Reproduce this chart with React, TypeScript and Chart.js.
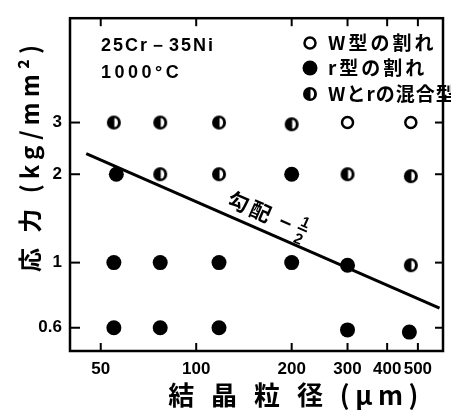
import { useEffect, useRef } from 'react';
import { Chart, registerables } from 'chart.js';
Chart.register(...registerables);

// ---- data ----
const xTickValues = [50, 100, 200, 300, 400, 500];
const yTickValues = [0.6, 1, 2, 3];
const wTypePoints = [
  { x: 300, y: 3 },
  { x: 475, y: 3 },
];
const rTypePoints = [
  { x: 56, y: 2 },
  { x: 200, y: 2 },
  { x: 55, y: 1 },
  { x: 77, y: 1 },
  { x: 118, y: 1 },
  { x: 200, y: 1 },
  { x: 300, y: 0.98 },
  { x: 55, y: 0.6 },
  { x: 77, y: 0.6 },
  { x: 118, y: 0.6 },
  { x: 300, y: 0.59 },
  { x: 470, y: 0.58 },
];
const mixedPoints = [
  { x: 55, y: 3 },
  { x: 77, y: 3 },
  { x: 118, y: 3 },
  { x: 200, y: 2.96 },
  { x: 77, y: 2 },
  { x: 118, y: 2 },
  { x: 300, y: 2 },
  { x: 475, y: 1.97 },
  { x: 475, y: 0.98 },
];
const slopeLine = [
  { x: 45, y: 2.35 },
  { x: 585, y: 0.7 },
];
const legendLabels = ['W型の割れ', 'r型の割れ', 'Wとrの混合型'];
const alloyLabel = '25Cr－35Ni';
const tempLabel = '1000°C';
const slopeText = '勾配 −';
const xTitle = '結 晶 粒 径 (μm)';
const yTitle = '応 力 (kg/mm²)';

const CJK = '"Noto Sans CJK JP", sans-serif';
const LAT = '"Liberation Sans", Arial, sans-serif';

function makeHalfMarker(): HTMLCanvasElement {
  const c = document.createElement('canvas');
  c.width = 16;
  c.height = 16;
  const g = c.getContext('2d')!;
  g.fillStyle = '#000';
  g.beginPath();
  g.arc(8, 8, 7, 0, Math.PI * 2);
  g.fill();
  g.fillStyle = '#fff';
  g.beginPath();
  g.ellipse(8.5, 8, 3.6, 4.6, 0, -Math.PI / 2, Math.PI / 2);
  g.closePath();
  g.fill();
  return c;
}

function drawMarker(ctx: CanvasRenderingContext2D, kind: number, x: number, y: number, half: HTMLCanvasElement) {
  if (kind === 0) {
    ctx.beginPath();
    ctx.lineWidth = 2.5;
    ctx.strokeStyle = '#000';
    ctx.arc(x, y, 5.5, 0, Math.PI * 2);
    ctx.stroke();
  } else if (kind === 1) {
    ctx.beginPath();
    ctx.fillStyle = '#000';
    ctx.arc(x, y, 7.5, 0, Math.PI * 2);
    ctx.fill();
  } else {
    ctx.drawImage(half, x - 8, y - 8);
  }
}

function spaced(ctx: any, px: number) {
  ctx.letterSpacing = `${px}px`;
}

export default function App() {
  const ref = useRef<HTMLCanvasElement>(null);
  useEffect(() => {
    const half = makeHalfMarker();
    const overlay = {
      id: 'overlay',
      afterDraw(chart: any) {
        const { ctx, chartArea: a, scales } = chart;
        const xs = scales.x;
        const ys = scales.y;
        ctx.save();
        // frame
        ctx.strokeStyle = '#000';
        ctx.lineWidth = 2.5;
        ctx.strokeRect(a.left, a.top, a.right - a.left, a.bottom - a.top);
        ctx.lineWidth = 2;
        const seg = (x1: number, y1: number, x2: number, y2: number) => {
          ctx.beginPath();
          ctx.moveTo(x1, y1);
          ctx.lineTo(x2, y2);
          ctx.stroke();
        };
        xTickValues.forEach((v) => {
          const px = xs.getPixelForValue(v);
          seg(px, a.bottom, px, a.bottom - 8);
          seg(px, a.top, px, a.top + 8);
        });
        yTickValues.forEach((v) => {
          const py = ys.getPixelForValue(v);
          seg(a.left, py, a.left + 10, py);
          seg(a.right, py, a.right - 8, py);
        });
        // annotations
        ctx.fillStyle = '#000';
        ctx.textAlign = 'left';
        ctx.textBaseline = 'middle';
        ctx.font = `bold 18px ${LAT}`;
        spaced(ctx, 2);
        ctx.fillText(alloyLabel, a.left + 31, 46);
        spaced(ctx, 3.5);
        ctx.fillText(tempLabel, a.left + 31, 73);
        // legend
        const rows = [43, 68, 94];
        const gaps = [3, 3, 1];
        legendLabels.forEach((t, i) => {
          drawMarker(ctx, i, 310, rows[i], half);
          ctx.fillStyle = '#000';
          ctx.font = `bold 19px ${CJK}`;
          spaced(ctx, gaps[i]);
          ctx.textAlign = 'left';
          ctx.textBaseline = 'middle';
          ctx.fillText(t, 328, rows[i]);
        });
        // slope label
        const p1x = xs.getPixelForValue(slopeLine[0].x);
        const p1y = ys.getPixelForValue(slopeLine[0].y);
        const p2x = xs.getPixelForValue(slopeLine[1].x);
        const p2y = ys.getPixelForValue(slopeLine[1].y);
        const ang = Math.atan2(p2y - p1y, p2x - p1x);
        const t = 0.4;
        const cx = p1x + (p2x - p1x) * t;
        const cy = p1y + (p2y - p1y) * t;
        ctx.save();
        ctx.translate(cx, cy);
        ctx.rotate(ang);
        ctx.font = `bold 21px ${CJK}`;
        spaced(ctx, 3);
        ctx.textAlign = 'left';
        ctx.textBaseline = 'alphabetic';
        ctx.fillText(slopeText, -6, -9);
        const w = ctx.measureText(slopeText).width;
        const fx = -6 + w + 9;
        spaced(ctx, 0);
        ctx.font = `bold 15px ${LAT}`;
        ctx.textAlign = 'center';
        ctx.fillText('1', fx, -20);
        ctx.lineWidth = 1.8;
        seg(fx - 5, -17, fx + 5, -17);
        ctx.fillText('2', fx, -2);
        ctx.restore();
        // axis titles
        ctx.font = `bold 26px ${CJK}`;
        spaced(ctx, 5.5);
        ctx.textAlign = 'center';
        ctx.textBaseline = 'middle';
        ctx.fillText(xTitle, 296, 395);
        ctx.font = `bold 24px ${CJK}`;
        spaced(ctx, 5);
        ctx.save();
        ctx.translate(30, 156);
        ctx.rotate(-Math.PI / 2);
        ctx.fillText(yTitle, 0, 0);
        ctx.restore();
        ctx.restore();
      },
    };
    const chart = new Chart(ref.current!, {
      type: 'scatter',
      data: {
        datasets: [
          {
            label: legendLabels[0],
            data: wTypePoints,
            pointStyle: 'circle',
            pointRadius: 5.5,
            borderWidth: 2.5,
            borderColor: '#000',
            backgroundColor: '#fff',
          },
          {
            label: legendLabels[1],
            data: rTypePoints,
            pointStyle: 'circle',
            pointRadius: 7.5,
            borderWidth: 0,
            backgroundColor: '#000',
          },
          {
            label: legendLabels[2],
            data: mixedPoints,
            pointStyle: half as any,
            pointRadius: 7,
          },
          {
            label: 'slope',
            data: slopeLine,
            showLine: true,
            pointRadius: 0,
            borderColor: '#000',
            borderWidth: 3,
          } as any,
        ],
      },
      options: {
        animation: false,
        responsive: false,
        layout: { padding: { left: 8, top: 12, right: 4, bottom: 0 } },
        plugins: { legend: { display: false }, tooltip: { enabled: false } },
        scales: {
          x: {
            type: 'logarithmic',
            min: 40,
            max: 600,
            afterBuildTicks: (s: any) => {
              s.ticks = xTickValues.map((v) => ({ value: v }));
            },
            afterFit: (s: any) => {
              s.height = 59;
            },
            grid: { display: false, drawTicks: false },
            border: { display: false },
            ticks: {
              padding: 8,
              color: '#000',
              font: { family: LAT, size: 17, weight: 'bold' },
              callback: (v: any) => String(v),
            },
          },
          y: {
            type: 'logarithmic',
            min: 0.5,
            max: 6.8,
            afterBuildTicks: (s: any) => {
              s.ticks = yTickValues.map((v) => ({ value: v }));
            },
            afterFit: (s: any) => {
              s.width = 62;
            },
            grid: { display: false, drawTicks: false },
            border: { display: false },
            ticks: {
              padding: 8,
              color: '#000',
              font: { family: LAT, size: 17, weight: 'bold' },
              callback: (v: any) => String(v),
            },
          },
        },
      },
      plugins: [overlay],
    });
    return () => chart.destroy();
  }, []);
  return (
    <div style={{ position: 'fixed', left: 0, top: 0, width: 451, height: 410, background: '#fff' }}>
      <canvas ref={ref} width={451} height={410} />
    </div>
  );
}
